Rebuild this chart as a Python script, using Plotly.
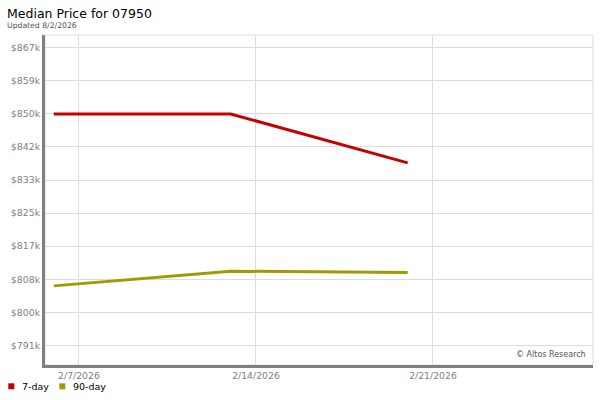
import plotly.graph_objects as go

# ---- data ----
dates = ["2026-02-06", "2026-02-13", "2026-02-20"]
seven_day = [850000, 850000, 837500]
ninety_day = [806100, 809850, 809500]

y_tick_values = [790920, 799360, 807800, 816240, 824680, 833120, 841560, 850000, 858440, 866880]
y_tick_labels = ["$791k", "$800k", "$808k", "$817k", "$825k", "$833k", "$842k", "$850k", "$859k", "$867k"]
x_tick_values = ["2026-02-07", "2026-02-14", "2026-02-21"]
x_tick_labels = ["2/7/2026", "2/14/2026", "2/21/2026"]

series_names = ["7-day", "90-day"]
series_colors = ["#c40000", "#a09c00"]

FONT = "DejaVu Sans"

fig = go.Figure()
for name, vals, col in zip(series_names, [seven_day, ninety_day], series_colors):
    fig.add_trace(go.Scatter(x=dates, y=vals, mode="lines", name=name,
                             line=dict(color=col, width=3), showlegend=False))

fig.update_layout(
    width=600, height=400,
    margin=dict(l=45, r=7, t=35, b=35),
    paper_bgcolor="white", plot_bgcolor="white",
    font=dict(family=FONT, size=10, color="#808080"),
    showlegend=False,
    xaxis=dict(
        type="date",
        range=["2026-02-05 15:44", "2026-02-27 07:55"],
        tickvals=x_tick_values, ticktext=x_tick_labels,
        showgrid=True, gridcolor="#dcdcdc", gridwidth=1,
        showline=True, linecolor="#808080", linewidth=3,
        ticks="", zeroline=False,
        tickfont=dict(family=FONT, size=9.3, color="#808080"),
    ),
    yaxis=dict(
        range=[785900, 870150],
        tickvals=y_tick_values, ticktext=y_tick_labels,
        showgrid=True, gridcolor="#dcdcdc", gridwidth=1,
        showline=True, linecolor="#808080", linewidth=3,
        ticks="", zeroline=False,
        tickfont=dict(family=FONT, size=9.4, color="#808080"),
    ),
)

# light frame on top/right
fig.add_shape(type="rect", xref="paper", yref="paper", x0=0, x1=1, y0=0, y1=1,
              line=dict(color="#dcdcdc", width=1), layer="below")

# title and subtitle
fig.add_annotation(text="Median Price for 07950", xref="paper", yref="paper",
                   x=(5.3-45)/548, y=1 + (35-13.5)/330, xanchor="left", yanchor="middle",
                   showarrow=False, font=dict(family=FONT, size=12.5, color="#000000"))
fig.add_annotation(text="Updated 8/2/2026", xref="paper", yref="paper",
                   x=(5.3-45)/548, y=1 + (35-25)/330, xanchor="left", yanchor="middle",
                   showarrow=False, font=dict(family=FONT, size=7.7, color="#555555"))

# watermark
fig.add_annotation(text="© Altos Research", xref="paper", yref="paper",
                   x=1 - 5/548, y=(365-354)/330, xanchor="right", yanchor="middle",
                   showarrow=False, font=dict(family=FONT, size=8, color="#555555"))

# legend (squares + labels)
legend_sq_x = [8.3, 59.3]
legend_txt_x = [21.7, 72.7]
for name, col, sx, tx in zip(series_names, series_colors, legend_sq_x, legend_txt_x):
    fig.add_shape(type="rect", xref="paper", yref="paper",
                  x0=(sx-45)/548, x1=(sx+6-45)/548,
                  y0=(365-389.3)/330, y1=(365-383.3)/330,
                  fillcolor=col, line=dict(width=0))
    fig.add_annotation(text=name, xref="paper", yref="paper",
                       x=(tx-45)/548, y=(365-386.5)/330, xanchor="left", yanchor="middle",
                       showarrow=False, xshift=-2,
                       font=dict(family=FONT, size=9.5, color="#000000"))

fig.write_html("out.html", config={"displayModeBar": False},
               post_script="document.body.style.margin='0';document.body.style.overflow='hidden';")
